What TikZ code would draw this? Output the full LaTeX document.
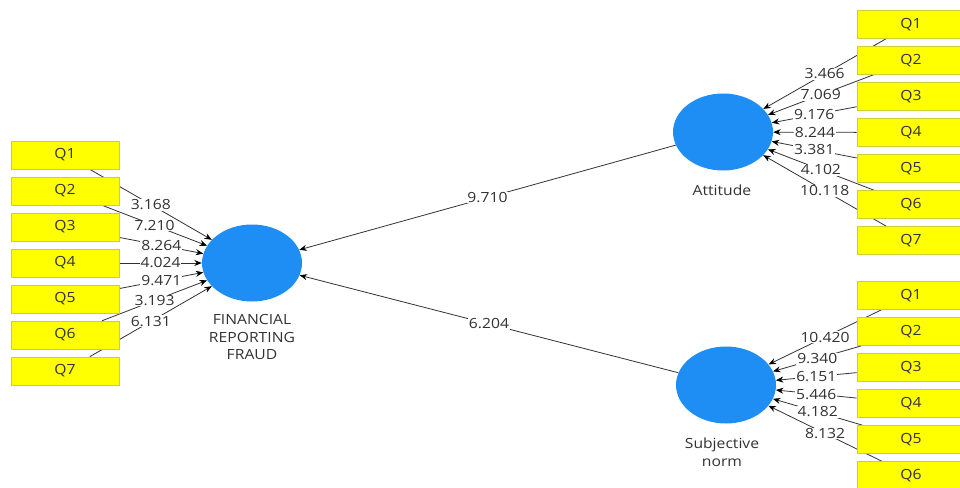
\documentclass[tikz,border=0pt]{standalone}
\usepackage{fontspec}
\setmainfont[FakeStretch=1.12]{Open Sans}
\usetikzlibrary{shapes.geometric,arrows.meta,backgrounds}
\definecolor{yfill}{RGB}{255,255,0}
\definecolor{yline}{RGB}{205,205,60}
\definecolor{lvblue}{RGB}{30,142,245}
\definecolor{txt}{RGB}{50,50,50}
\definecolor{linec}{RGB}{50,50,50}
\tikzset{
  every node/.style={font=\fontsize{14}{17.5}\selectfont, text=txt},
  ind/.style={rectangle, fill=yfill, draw=yline, line width=0.6pt,
    minimum width=108pt, minimum height=28pt, inner sep=0pt},
  lv/.style={ellipse, fill=lvblue, minimum width=100pt, minimum height=77pt, inner sep=0pt},
  wt/.style={fill=white, inner sep=0.8pt},
  lvlab/.style={align=center, inner sep=0pt},
  link/.style={draw=linec, line width=0.8pt, -{Stealth[length=7.5pt,width=6pt,black]}},
}
\begin{document}
\begin{tikzpicture}[x=1pt,y=-1pt]
\useasboundingbox (0,0) rectangle (960,487);
\clip (0,0) rectangle (960,487);
% latent variables
\node[lv] (frf) at (252,263) {};
\node[lv] (att) at (723,132) {};
\node[lv] (sn) at (726,385) {};
\node[lvlab] (frflab) at (252,337) {FINANCIAL\\REPORTING\\FRAUD};
\node[lvlab] (attlab) at (722,190) {Attitude};
\node[lvlab] (snlab) at (722,452) {Subjective\\norm};
% left indicators
\foreach \i in {1,...,7} {
  \node[ind] (f\i) at (65,{155+36*(\i-1)}) {Q\i};
}
% attitude indicators
\foreach \i in {1,...,7} {
  \node[ind] (a\i) at (911,{24.5+36*(\i-1)}) {Q\i};
}
% subjective norm indicators
\foreach \i in {1,...,6} {
  \node[ind] (s\i) at (911,{295.5+36*(\i-1)}) {Q\i};
}
% connectors
\begin{pgfonlayer}{background}
\foreach \i in {1,...,7} { \draw[link] (f\i) -- (frf); }
\foreach \i in {1,...,7} { \draw[link] (a\i) -- (att); }
\foreach \i in {1,...,6} { \draw[link] (s\i) -- (sn); }
\draw[link] (att) -- (frf);
\draw[link] (sn) -- (frf);
\end{pgfonlayer}
% labels
\foreach \i/\v in {1/3.168,2/7.210,3/8.264,4/4.024,5/9.471,6/3.193,7/6.131} {
  \path (f\i) -- node[wt] {\v} (frf);
}
\foreach \i/\v in {1/3.466,2/7.069,3/9.176,4/8.244,5/3.381,6/4.102,7/10.118} {
  \path (a\i) -- node[wt] {\v} (att);
}
\foreach \i/\v in {1/10.420,2/9.340,3/6.151,4/5.446,5/4.182,6/8.132} {
  \path (s\i) -- node[wt] {\v} (sn);
}
\path (att) -- node[wt] {9.710} (frf);
\path (sn) -- node[wt] {6.204} (frf);
\end{tikzpicture}
\end{document}
